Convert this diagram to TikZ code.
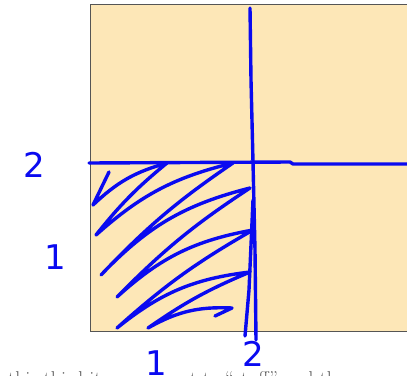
\documentclass[tikz,border=0pt]{standalone}
\usepackage{fontspec}
\newfontfamily\handfont{DejaVu Sans}
\definecolor{paper}{RGB}{253,231,183}
\definecolor{frame}{RGB}{85,85,85}
\definecolor{ink}{RGB}{10,10,240}
\definecolor{txtgray}{RGB}{90,90,90}
\begin{document}
\begin{tikzpicture}[x=1pt,y=-1pt,
  pen/.style={draw=ink,line width=3.4pt,line cap=round,line join=round},
  digit/.style={text=ink,font=\handfont\fontsize{34}{34}\selectfont,inner sep=0pt}]
\useasboundingbox (0,0) rectangle (407,375);
\begin{scope}
\clip (0,0) rectangle (407,375);
\node[draw=frame,fill=paper,line width=1.2pt,minimum width=330pt,minimum height=327pt,anchor=north west,inner sep=0pt] (sq) at (89.5,3.5) {};
% vertical line
\coordinate (vtop) at (250,8);
\coordinate (vmid) at (253,162);
\coordinate (vbot) at (256,340);
\draw[pen] (vtop) -- (251,80) -- (vmid) -- (255,250) -- (vbot);
\draw[pen] (253,200) -- (249,290) -- (245,336);
% horizontal line
\coordinate (hl) at (89,163);
\coordinate (hr) at (410,164);
\draw[pen] (hl) -- (290,162) -- (293,164) -- (hr);
% hatching
\draw[pen] (109,172) -- (93,205) to[bend left=14] (167,163)
  to[bend right=6] (96,235) to[bend left=14] (233,163)
  to[bend right=6] (101,275) to[bend left=16] (250,188)
  to[bend right=6] (117,297) to[bend left=16] (253,230)
  to[bend right=6] (117,328) to[bend left=16] (250,272)
  to[bend right=6] (148,328) to[bend left=16] (232,308) -- (215,316);
% labels
\node[digit] (l2) at (34,165) {2};
\node[digit] (l1) at (55,257) {1};
\node[digit] (b1) at (156,363) {1};
\node[digit] (b2) at (253,354) {2};
% cut-off caption
\node[text=txtgray,font=\fontsize{20}{20}\selectfont,anchor=base west,inner sep=0pt] (cap) at (8,385) {this third item we want to ``stuff'' and then we need};
\end{scope}
\end{tikzpicture}
\end{document}
